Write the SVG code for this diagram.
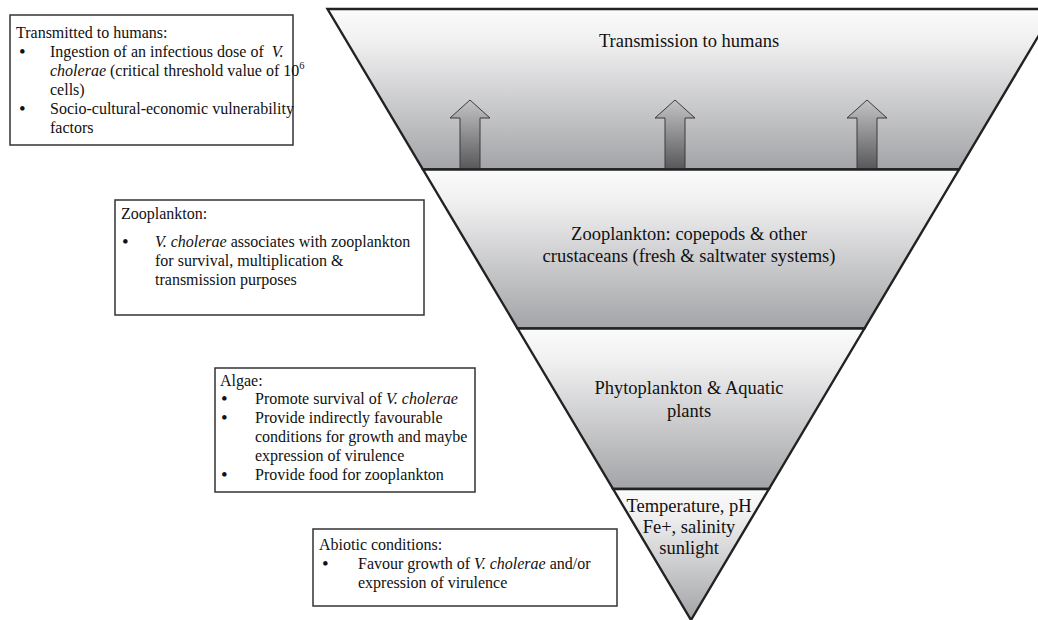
<svg xmlns="http://www.w3.org/2000/svg" width="1038" height="620" viewBox="0 0 1038 620">
<defs>
<linearGradient id="layerGrad" x1="0" y1="0" x2="0" y2="1">
<stop offset="0" stop-color="#fbfbfb"/>
<stop offset="0.2" stop-color="#f0f0f1"/>
<stop offset="1" stop-color="#a3a4a7"/>
</linearGradient>
<linearGradient id="arrowGrad" x1="0" y1="0" x2="0" y2="1">
<stop offset="0" stop-color="#c4c4c6"/>
<stop offset="1" stop-color="#58585a"/>
</linearGradient>
<style>
.layer{fill:url(#layerGrad);stroke:#222222;stroke-width:2.4;stroke-linejoin:miter}
.arrow{fill:url(#arrowGrad);stroke:#3a3a3a;stroke-width:1}
.box{fill:#ffffff;stroke:#333333;stroke-width:1.5}
.lt{font-family:"Liberation Serif","Times New Roman",serif;font-size:18.5px;fill:#111;text-anchor:middle}
.bt{font-family:"Liberation Serif","Times New Roman",serif;font-size:16px;fill:#111}
.bu{font-family:"Liberation Serif","Times New Roman",serif;font-size:19px;fill:#111}
.it{font-style:italic}
</style>
</defs>

<g id="layer-transmission">
<polygon class="layer" points="327.5,9 1054.5,9 959,169.5 423,169.5"/>
<text class="lt" x="689" y="47">Transmission to humans</text>
</g>

<g id="connectors">
<polygon class="arrow" points="470,100 490,118 480,118 480,169 460,169 460,118 450,118"/>
<polygon class="arrow" points="675,100 695,118 685,118 685,169 665,169 665,118 655,118"/>
<polygon class="arrow" points="867,100 887,118 877,118 877,169 857,169 857,118 847,118"/>
</g>

<g id="layer-zooplankton">
<polygon class="layer" points="423,169.5 959,169.5 864.4,328.5 517.6,328.5"/>
<text class="lt" x="689" y="240">Zooplankton: copepods &amp; other</text>
<text class="lt" x="689" y="262">crustaceans (fresh &amp; saltwater systems)</text>
</g>

<g id="layer-phytoplankton">
<polygon class="layer" points="517.6,328.5 864.4,328.5 768.9,489 613.1,489"/>
<text class="lt" x="689" y="394">Phytoplankton &amp; Aquatic</text>
<text class="lt" x="689" y="417">plants</text>
</g>

<g id="layer-abiotic">
<polygon class="layer" points="613.1,489 768.9,489 691,620"/>
<text class="lt" x="689" y="512">Temperature, pH</text>
<text class="lt" x="689" y="533">Fe+, salinity</text>
<text class="lt" x="689" y="554">sunlight</text>
</g>

<g id="box-humans">
<rect class="box" x="10" y="15" width="283" height="130"/>
<text class="bt" x="16" y="38">Transmitted to humans:</text>
<text class="bu" x="19" y="58">•</text>
<text class="bt" x="50" y="57">Ingestion of an infectious dose of <tspan class="it" dx="4">V.</tspan></text>
<text class="bt" x="50" y="76"><tspan class="it">cholerae</tspan> (critical threshold value of 10<tspan font-size="10.5" dy="-7">6</tspan></text>
<text class="bt" x="50" y="95">cells)</text>
<text class="bu" x="19" y="115">•</text>
<text class="bt" x="50" y="114">Socio-cultural-economic vulnerability</text>
<text class="bt" x="50" y="133">factors</text>
</g>

<g id="box-zooplankton">
<rect class="box" x="115" y="200" width="309" height="115"/>
<text class="bt" x="121" y="219">Zooplankton:</text>
<text class="bu" x="122" y="248">•</text>
<text class="bt" x="155" y="247"><tspan class="it">V. cholerae</tspan> associates with zooplankton</text>
<text class="bt" x="155" y="266">for survival, multiplication &amp;</text>
<text class="bt" x="155" y="285">transmission purposes</text>
</g>

<g id="box-algae">
<rect class="box" x="215" y="368" width="260" height="124"/>
<text class="bt" x="220" y="386">Algae:</text>
<text class="bu" x="221" y="405">•</text>
<text class="bt" x="255" y="404">Promote survival of <tspan class="it">V. cholerae</tspan></text>
<text class="bu" x="221" y="424">•</text>
<text class="bt" x="255" y="423">Provide indirectly favourable</text>
<text class="bt" x="255" y="442">conditions for growth and maybe</text>
<text class="bt" x="255" y="461">expression of virulence</text>
<text class="bu" x="221" y="481">•</text>
<text class="bt" x="255" y="480">Provide food for zooplankton</text>
</g>

<g id="box-abiotic">
<rect class="box" x="313" y="529" width="304" height="77"/>
<text class="bt" x="319" y="550">Abiotic conditions:</text>
<text class="bu" x="322" y="570">•</text>
<text class="bt" x="358" y="569">Favour growth of <tspan class="it">V. cholerae</tspan> and/or</text>
<text class="bt" x="358" y="588">expression of virulence</text>
</g>
</svg>
